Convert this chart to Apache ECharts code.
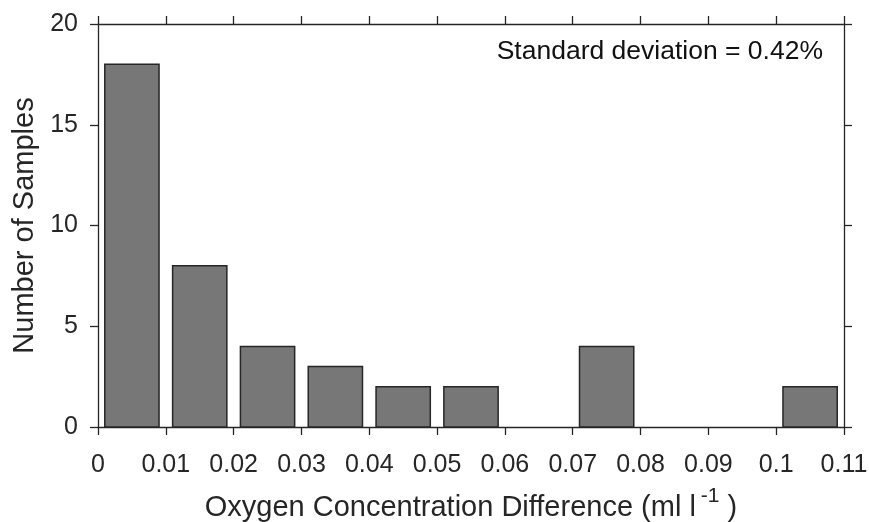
<!DOCTYPE html>
<html>
<head>
<meta charset="utf-8">
<script src="https://cdn.jsdelivr.net/npm/echarts@6/dist/echarts.min.js"></script>
<style>
html,body{margin:0;padding:0;background:#fff;}
#chart{width:869px;height:522px;}
</style>
</head>
<body>
<div id="chart"></div>
<script>
// Data
var binCenters = [0.005, 0.015, 0.025, 0.035, 0.045, 0.055, 0.065, 0.075, 0.085, 0.095, 0.105];
var counts = [18, 8, 4, 3, 2, 2, 0, 4, 0, 0, 2];
var binWidth = 0.01;
var xTitle = 'Oxygen Concentration Difference (ml l';
var yTitle = 'Number of Samples';
var annotation = 'Standard deviation = 0.42%';

var barRatio = 0.8;
var FONT = '"Liberation Sans", Arial, Helvetica, sans-serif';
var TXT = '#262626';

var chart = echarts.init(document.getElementById('chart'), null, {renderer: 'canvas'});
var seriesData = binCenters.map(function (c, i) { return [c, counts[i]]; });

var axisCommon = {
  axisLine: {show: true, onZero: false, lineStyle: {color: TXT, width: 1.3}},
  axisTick: {show: true, inside: false, length: 8, lineStyle: {color: TXT, width: 1.3}},
  splitLine: {show: false}
};

var option = {
  animation: false,
  backgroundColor: '#fff',
  grid: {left: 98, right: 25, top: 24, bottom: 95, containLabel: false, outerBoundsMode: 'none'},
  xAxis: [
    Object.assign({
      type: 'value', position: 'bottom', min: 0, max: 0.11, interval: 0.01,
      axisLabel: {color: TXT, fontSize: 25, fontFamily: FONT, margin: 26,
        formatter: function (v) { return String(+v.toFixed(2)); }},
      name: xTitle + '{sup|-1}' + ' )',
      nameLocation: 'middle', nameGap: 59,
      nameTextStyle: {color: TXT, fontSize: 29, fontFamily: FONT, lineHeight: 44,
        rich: {sup: {fontSize: 21, fontFamily: FONT, color: TXT, verticalAlign: 'top', lineHeight: 22, padding: [0, 0, 0, 5]}}}
    }, axisCommon),
    Object.assign({
      type: 'value', position: 'top', min: 0, max: 0.11, interval: 0.01,
      axisLabel: {show: false}
    }, axisCommon)
  ],
  yAxis: [
    Object.assign({
      type: 'value', position: 'left', min: 0, max: 20, interval: 5,
      axisLabel: {color: TXT, fontSize: 25, fontFamily: FONT, margin: 20},
      name: yTitle, nameLocation: 'middle', nameGap: 52, nameRotate: 90,
      nameTextStyle: {color: TXT, fontSize: 29, fontFamily: FONT}
    }, axisCommon),
    Object.assign({
      type: 'value', position: 'right', min: 0, max: 20, interval: 5,
      axisLabel: {show: false}
    }, axisCommon)
  ],
  graphic: [{
    type: 'text', right: 46, top: 38,
    style: {text: annotation, fill: '#111', font: '26.5px ' + FONT}
  }],
  series: [{
    type: 'custom',
    xAxisIndex: 0, yAxisIndex: 0,
    data: seriesData,
    renderItem: function (params, api) {
      var c = api.value(0), v = api.value(1);
      if (!v) return null;
      var half = binWidth * barRatio / 2;
      var p0 = api.coord([c - half, v]);
      var p1 = api.coord([c + half, 0]);
      return {
        type: 'rect',
        shape: {x: p0[0], y: p0[1], width: p1[0] - p0[0], height: p1[1] - p0[1]},
        style: {fill: '#777777', stroke: '#262626', lineWidth: 1.5}
      };
    },
    z: 1
  }]
};
chart.setOption(option);
</script>
</body>
</html>
